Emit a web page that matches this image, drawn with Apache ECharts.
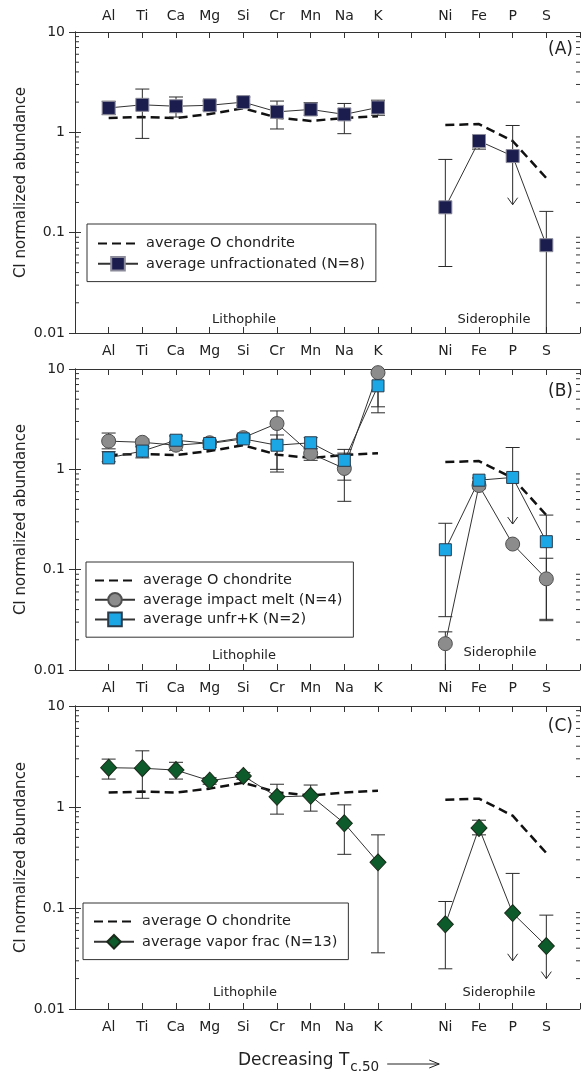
<!DOCTYPE html>
<html>
<head>
<meta charset="utf-8">
<script src="https://cdn.jsdelivr.net/npm/echarts@6/dist/echarts.min.js"></script>
<style>
  html, body { margin: 0; padding: 0; background: #fff; }
  #chart { width: 583px; height: 1073px; }
</style>
</head>
<body>
<div id="chart"></div>
<script>
// element order along the x axis ('' = gap between the two groups)
const categories = ['Al', 'Ti', 'Ca', 'Mg', 'Si', 'Cr', 'Mn', 'Na', 'K', '', 'Ni', 'Fe', 'P', 'S'];
const xMin = 0, xMax = 15;

// average O chondrite (same curve in every panel)
const oChondrite = [1.39, 1.42, 1.39, 1.52, 1.74, 1.40, 1.30, 1.39, 1.45, null, 1.18, 1.21, 0.82, 0.35];

// (A) average unfractionated (N=8)
const unfrac     = [1.75, 1.88, 1.82, 1.86, 2.00, 1.60, 1.69, 1.51, 1.77, null, 0.179, 0.82, 0.58, 0.075];
const unfracLow  = [1.50, 0.87, 1.42, 1.66, 1.85, 1.08, 1.48, 0.97, 1.48, null, 0.046, 0.68, 0.19, 0.005];
const unfracHigh = [2.04, 2.70, 2.25, 2.05, 2.25, 2.05, 1.98, 1.94, 2.09, null, 0.537, 0.93, 1.17, 0.163];
const unfracLimits = ['P'];

// (B) average impact melt (N=4)
const melt     = [1.91, 1.86, 1.74, 1.84, 2.07, 2.86, 1.44, 1.02, 9.2, null, 0.0183, 0.69, 0.18, 0.081];
const meltLow  = [1.60, 1.67, 1.55, 1.70, 1.90, 0.94, 1.23, 0.48, 4.2, null, 0.005, 0.64, null, 0.031];
const meltHigh = [2.30, 2.00, 1.90, 1.95, 2.20, 3.82, 1.60, 1.45, 12, null, 0.024, 0.75, null, 0.13];
const meltLimits = [];

// (B) average unfr+K (N=2)
const unfrK     = [1.30, 1.52, 1.95, 1.81, 2.01, 1.74, 1.84, 1.23, 6.8, null, 0.158, 0.78, 0.83, 0.19];
const unfrKLow  = [1.19, 1.30, 1.75, 1.65, 1.85, 1.00, 1.60, 0.78, 3.66, null, 0.034, 0.72, 0.285, 0.032];
const unfrKHigh = [1.50, 1.70, 2.15, 1.95, 2.15, 2.20, 2.07, 1.58, 9.0, null, 0.29, 0.82, 1.65, 0.35];
const unfrKLimits = ['P'];

// (C) average vapor frac (N=13)
const vapor     = [2.45, 2.42, 2.32, 1.82, 2.03, 1.26, 1.29, 0.69, 0.283, null, 0.069, 0.62, 0.089, 0.042];
const vaporLow  = [1.89, 1.22, 1.89, 1.68, 1.88, 0.85, 0.91, 0.34, 0.036, null, 0.025, 0.53, 0.030, 0.020];
const vaporHigh = [2.98, 3.60, 2.77, 1.95, 2.20, 1.68, 1.65, 1.05, 0.53, null, 0.116, 0.74, 0.22, 0.085];
const vaporLimits = ['P', 'S'];

// minor ticks of the log axis
const minorTicks = [];
[0.01, 0.1, 1].forEach(d => { for (let k = 2; k <= 9; k++) minorTicks.push(+(d * k).toPrecision(2)); });

const FONT = 'DejaVu Sans';
const chart = echarts.init(document.getElementById('chart'));

const toPts = vals => vals.map((v, i) => [i + 1, v == null ? '-' : v]);
const errData = (low, high, limits) =>
  categories.map((c, i) => low[i] == null ? null : [i + 1, low[i], high[i], limits.includes(c) ? 1 : 0]).filter(Boolean);

function renderErr(params, api) {
  const cs = params.coordSys;
  const top = api.coord([api.value(0), api.value(2)]);
  const bot = api.coord([api.value(0), api.value(1)]);
  const style = { stroke: '#2a2a2a', lineWidth: 1, fill: null };
  const yTop = Math.max(top[1], cs.y), yBot = Math.min(bot[1], cs.y + cs.height);
  const x = top[0], w = 7;
  const kids = [{ type: 'line', shape: { x1: x, y1: yTop, x2: x, y2: yBot }, style }];
  if (top[1] >= cs.y) kids.push({ type: 'line', shape: { x1: x - w, y1: top[1], x2: x + w, y2: top[1] }, style });
  if (api.value(3)) {
    kids.push({ type: 'polyline', shape: { points: [[x - 5, bot[1] - 7], [x, bot[1]], [x + 5, bot[1] - 7]] }, style });
  } else if (bot[1] <= cs.y + cs.height) {
    kids.push({ type: 'line', shape: { x1: x - w, y1: bot[1], x2: x + w, y2: bot[1] }, style });
  }
  return { type: 'group', children: kids };
}

function renderMinor(params, api) {
  const l = api.coord([xMin, api.value(1)]);
  const r = api.coord([xMax, api.value(1)]);
  const style = { stroke: '#333', lineWidth: 1 };
  return { type: 'group', children: [
    { type: 'line', shape: { x1: l[0], y1: l[1], x2: l[0] + 4, y2: l[1] }, style },
    { type: 'line', shape: { x1: r[0], y1: r[1], x2: r[0] - 4, y2: r[1] }, style }
  ] };
}

const grids = [
  { left: 75, width: 505, top: 32, height: 301 },
  { left: 75, width: 505, top: 369, height: 301 },
  { left: 75, width: 505, top: 706, height: 303 }
];

const xAxes = [], yAxes = [];
grids.forEach((g, gi) => {
  const base = {
    type: 'value', gridIndex: gi, min: xMin, max: xMax, interval: 1,
    axisLine: { lineStyle: { color: '#333', width: 1 } },
    axisTick: { inside: true, length: 6, lineStyle: { color: '#333' } },
    splitLine: { show: false },
    axisLabel: { fontFamily: FONT, fontSize: 14, color: '#222', formatter: v => categories[v - 1] || '' }
  };
  xAxes.push(Object.assign({}, base, { position: 'bottom', axisLabel: Object.assign({}, base.axisLabel, { margin: 11 }) }));
  xAxes.push(Object.assign({}, base, { position: 'top', axisLabel: Object.assign({}, base.axisLabel, { show: gi === 0, margin: 9 }) }));
  const ybase = {
    type: 'log', logBase: 10, gridIndex: gi, min: 0.01, max: 10,
    axisLine: { show: true, lineStyle: { color: '#333', width: 1 } },
    axisTick: { inside: true, length: 6, lineStyle: { color: '#333' } },
    splitLine: { show: false }
  };
  yAxes.push(Object.assign({}, ybase, {
    position: 'left',
    name: 'CI normalized abundance', nameLocation: 'middle', nameRotate: 90, nameGap: 46, nameMoveOverlap: false,
    nameTextStyle: { fontFamily: FONT, fontSize: 15, color: '#222' },
    axisLabel: { fontFamily: FONT, fontSize: 14, color: '#222', margin: 10, formatter: v => String(+(+v).toPrecision(2)) }
  }));
  yAxes.push(Object.assign({}, ybase, { position: 'right', axisLabel: { show: false } }));
});

const lineStyle = { color: '#333', width: 1 };
const series = [];
function addPanel(gi, sets) {
  const ax = { xAxisIndex: gi * 2, yAxisIndex: gi * 2 };
  series.push(Object.assign({
    type: 'line', name: 'average O chondrite', data: toPts(oChondrite), symbol: 'none', z: 2,
    lineStyle: { color: '#111', width: 2.5, type: [9, 5] }, itemStyle: { color: 'rgba(0,0,0,0)', borderWidth: 0 }
  }, ax));
  series.push(Object.assign({ type: 'custom', data: minorTicks.map(v => [xMin, v]), renderItem: renderMinor, silent: true, z: 1 }, ax));
  sets.forEach(s => {
    series.push(Object.assign({ type: 'custom', data: errData(s.low, s.high, s.limits), renderItem: renderErr, silent: true, z: 3 }, ax));
  });
  sets.forEach(s => {
    series.push(Object.assign({
      type: 'line', name: s.name, data: toPts(s.vals), symbol: s.symbol, symbolSize: s.size,
      showAllSymbol: true, z: 4, lineStyle,
      itemStyle: { color: s.color, borderColor: s.border, borderWidth: 1 }
    }, ax));
  });
}

addPanel(0, [{ name: 'average unfractionated (N=8)', vals: unfrac, low: unfracLow, high: unfracHigh, limits: unfracLimits,
  symbol: 'rect', size: 13, color: '#1b1d4f', border: '#8a8a9a' }]);
addPanel(1, [
  { name: 'average impact melt (N=4)', vals: melt, low: meltLow, high: meltHigh, limits: meltLimits,
    symbol: 'circle', size: 14, color: '#8c8c8c', border: '#505050' },
  { name: 'average unfr+K (N=2)', vals: unfrK, low: unfrKLow, high: unfrKHigh, limits: unfrKLimits,
    symbol: 'rect', size: 12, color: '#1ba7e6', border: '#2a3a4a' }
]);
addPanel(2, [{ name: 'average vapor frac (N=13)', vals: vapor, low: vaporLow, high: vaporHigh, limits: vaporLimits,
  symbol: 'diamond', size: [16, 17], color: '#0d5a2a', border: '#1a2a1a' }]);

const legendBase = {
  orient: 'vertical', itemWidth: 40, itemHeight: 17, selectedMode: false,
  borderColor: '#333', borderWidth: 1, borderRadius: 0, backgroundColor: '#fff',
  textStyle: { fontFamily: FONT, fontSize: 14.5, color: '#222', padding: [0, 0, 0, 3] }
};
const legends = [
  Object.assign({}, legendBase, { left: 87, top: 224, padding: [12, 11, 10, 10], itemGap: 5,
    data: ['average O chondrite', 'average unfractionated (N=8)'] }),
  Object.assign({}, legendBase, { left: 86, top: 562, padding: [11, 11, 10, 8], itemGap: 4,
    data: ['average O chondrite', 'average impact melt (N=4)', 'average unfr+K (N=2)'] }),
  Object.assign({}, legendBase, { left: 83, top: 903, padding: [11, 11, 10, 10], itemGap: 5,
    data: ['average O chondrite', 'average vapor frac (N=13)'] })
];

// x-axis title: "Decreasing T" with subscript "c.50", then a long arrow
const titleMain = 'Decreasing T', titleSub = 'c.50';
const measure = document.createElement('canvas').getContext('2d');
measure.font = '17px "' + FONT + '"';
const mainW = measure.measureText(titleMain).width;
measure.font = '13.5px "' + FONT + '"';
const subW = measure.measureText(titleSub).width;
const titleX = 238, subX = titleX + mainW + 1, arrowX = subX + subW + 8;

const txt = (x, y, text, size, align) => ({
  type: 'text', x, y, silent: true,
  style: { text, fontFamily: FONT, fontSize: size, fill: '#222', align: align || 'center', verticalAlign: 'middle' }
});
const graphic = [
  txt(244, 320, 'Lithophile', 13), txt(494, 320, 'Siderophile', 13),
  txt(244, 656, 'Lithophile', 13), txt(500, 653, 'Siderophile', 13),
  txt(245, 993, 'Lithophile', 13), txt(499, 993, 'Siderophile', 13),
  txt(573, 50, '(A)', 17, 'right'), txt(573, 392, '(B)', 17, 'right'), txt(573, 727, '(C)', 17, 'right'),
  txt(titleX, 1061, titleMain, 17, 'left'),
  txt(subX, 1067, titleSub, 13.5, 'left'),
  { type: 'polyline', silent: true, shape: { points: [[arrowX, 1064], [arrowX + 52, 1064]] }, style: { stroke: '#222', lineWidth: 1 } },
  { type: 'polyline', silent: true, shape: { points: [[arrowX + 42, 1060], [arrowX + 52, 1064], [arrowX + 42, 1068]] }, style: { stroke: '#222', lineWidth: 1, fill: null } }
];

chart.setOption({
  backgroundColor: '#fff',
  animation: false,
  grid: grids,
  xAxis: xAxes,
  yAxis: yAxes,
  legend: legends,
  series,
  graphic
});
</script>
</body>
</html>
